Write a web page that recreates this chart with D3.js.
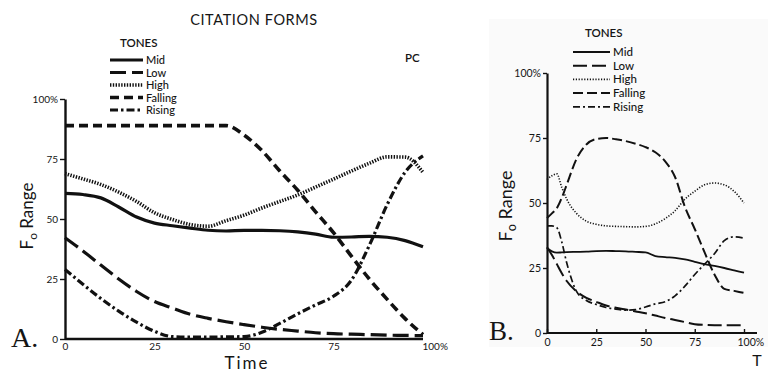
<!DOCTYPE html>
<html>
<head>
<meta charset="utf-8">
<script src="https://cdn.jsdelivr.net/npm/d3@7/dist/d3.min.js"></script>
<style>
  html, body { margin: 0; padding: 0; background: #fff; }
  svg { display: block; }
  text { font-family: Lato, "Open Sans", sans-serif; fill: #151515; }
  .panel-letter { font-family: "Liberation Serif", "DejaVu Serif", serif; }
</style>
</head>
<body>
<svg id="chart" width="768" height="372"></svg>
<script>
// ---- Tone labels (legend order) ----
const tones = ["Mid", "Low", "High", "Falling", "Rising"];

// ---- Axis ticks ----
const yTicks = [0, 25, 50, 75, 100];
const yTickLabels = ["0", "25", "50", "75", "100%"];
const xTicks = [0, 25, 50, 75, 100];
const xTickLabels = ["0", "25", "50", "75", "100%"];

// ---- Panel A: citation forms (percent of time vs percent of F0 range) ----
const timeA = [0, 5, 10, 15, 20, 25, 30, 35, 40, 45, 50, 55, 60, 65, 70, 75, 80, 85, 90, 95, 100];
const aMid     = [60.7, 60.2, 58.8, 55.0, 50.8, 48.3, 47.2, 46.2, 45.3, 45.0, 45.3, 45.3, 45.1, 44.6, 43.7, 42.4, 42.5, 42.8, 42.4, 41.0, 38.4];
const aLow     = [42.2, 36.7, 30.8, 25.0, 19.8, 15.6, 12.9, 10.3, 8.6, 7.2, 6.0, 4.9, 4.0, 3.3, 2.6, 2.2, 2.0, 1.8, 1.6, 1.5, 1.4];
const aHigh    = [68.9, 66.7, 64.4, 61.2, 57.3, 52.6, 49.8, 47.7, 47.0, 49.3, 51.6, 54.6, 57.3, 60.0, 63.3, 66.6, 70.0, 73.2, 75.9, 75.8, 69.4];
const aFalling = [88.9, 88.9, 88.9, 88.9, 88.9, 88.9, 88.9, 88.9, 88.9, 88.9, 85.0, 78.5, 70.0, 62.0, 53.0, 44.3, 34.5, 25.0, 16.5, 8.5, 1.8];
const aRising  = [29.0, 22.8, 16.9, 11.6, 7.0, 3.2, 1.0, 0.8, 0.8, 0.9, 1.0, 2.8, 6.5, 10.5, 14.2, 17.8, 24.5, 39.0, 56.0, 69.5, 76.3];

// ---- Panel B ----
const timeB = [0, 2.5, 5, 7.5, 10, 15, 20, 25, 30, 35, 40, 45, 50, 55, 60, 65, 70, 75, 80, 85, 90, 95, 100];
const bMid     = [32.7, 31.4, 30.9, 31.0, 31.1, 31.2, 31.3, 31.5, 31.6, 31.5, 31.4, 31.2, 31.0, 29.6, 29.2, 28.9, 28.3, 27.4, 26.5, 25.8, 25.0, 24.1, 23.2];
const bLow     = [33.0, 30.0, 26.5, 23.0, 20.0, 16.0, 13.5, 12.0, 10.6, 9.7, 9.0, 8.3, 7.6, 6.7, 5.8, 5.0, 4.2, 3.4, 3.1, 3.0, 3.0, 3.0, 3.0];
const bHigh    = [59.0, 60.5, 61.2, 56.0, 51.5, 46.0, 43.0, 41.8, 41.2, 41.0, 40.9, 40.8, 41.0, 42.0, 44.0, 47.0, 51.5, 54.5, 57.0, 57.7, 57.0, 54.5, 50.0];
const bFalling = [44.2, 46.0, 48.0, 52.0, 57.0, 67.0, 72.5, 74.6, 75.0, 74.5, 73.8, 72.8, 71.5, 69.5, 66.0, 60.0, 48.5, 40.0, 31.0, 22.5, 17.0, 16.2, 15.4];
const bRising  = [41.2, 41.2, 40.5, 35.0, 27.0, 16.0, 12.5, 11.0, 9.8, 9.2, 8.8, 9.0, 10.0, 11.2, 12.0, 14.3, 18.0, 22.5, 26.5, 30.5, 35.5, 37.0, 36.5];

const svg = d3.select("#chart");

// Stroke styles for the two panels (heavy ink for A, fine pen for B)
const stylesA = {
  Mid:     { w: 3.2, dash: null },
  Low:     { w: 3.2, dash: "16,6" },
  High:    { w: 3.6, dash: "1.4,1.4" },
  Falling: { w: 3.6, dash: "9,5" },
  Rising:  { w: 3.2, dash: "8,3,2.5,3" }
};
const stylesB = {
  Mid:     { w: 1.8, dash: null },
  Low:     { w: 2.0, dash: "14,5" },
  High:    { w: 1.6, dash: "1.2,1.6" },
  Falling: { w: 2.0, dash: "10,4" },
  Rising:  { w: 1.7, dash: "7,3,2,3" }
};

function drawPanel(cfg) {
  const x = d3.scaleLinear().domain([0, 100]).range(cfg.xRange);
  const y = d3.scaleLinear().domain([0, 100]).range(cfg.yRange);
  const g = svg.append("g");

  // y axis
  const yAxis = d3.axisLeft(y)
    .tickValues(yTicks)
    .tickFormat((d, i) => yTickLabels[i])
    .tickSizeInner(cfg.yTickSize).tickSizeOuter(0).tickPadding(2);
  const ya = g.append("g").attr("transform", `translate(${cfg.xRange[0]},0)`).call(yAxis);
  ya.select(".domain").attr("stroke", "#111").attr("stroke-width", cfg.axisW);
  ya.selectAll(".tick line").attr("stroke", "#111").attr("stroke-width", 1.4);
  ya.selectAll(".tick text").style("font-family", "Lato, sans-serif")
    .style("font-size", cfg.tickFont + "px").attr("fill", "#151515");

  // x axis
  const xAxis = d3.axisBottom(x)
    .tickValues(xTicks)
    .tickFormat((d, i) => xTickLabels[i])
    .tickSizeInner(cfg.xTickSize).tickSizeOuter(0).tickPadding(cfg.xTickPad);
  const xa = g.append("g").attr("transform", `translate(0,${cfg.yRange[0]})`).call(xAxis);
  xa.select(".domain").attr("stroke", "#111").attr("stroke-width", cfg.axisW)
    .attr("d", `M${cfg.xRange[0]},0H${cfg.xAxisEnd}`);
  xa.selectAll(".tick line").attr("stroke", "#111").attr("stroke-width", 1.4);
  xa.selectAll(".tick text").style("font-family", "Lato, sans-serif")
    .style("font-size", cfg.tickFont + "px").attr("fill", "#151515")
    .attr("text-anchor", (d) => d === 100 ? "start" : "middle")
    .attr("dx", (d) => d === 100 ? cfg.lastDx : 0);

  // tone curves
  const line = d3.line()
    .x((d) => x(d[0]))
    .y((d) => y(d[1]))
    .curve(d3.curveMonotoneX);
  tones.forEach((t, k) => {
    const pts = cfg.time.map((tv, i) => [tv, cfg.series[k][i]]);
    const st = cfg.styles[t];
    g.append("path")
      .datum(pts)
      .attr("d", line)
      .attr("fill", "none")
      .attr("stroke", "#111")
      .attr("stroke-width", st.w)
      .attr("stroke-dasharray", st.dash)
      .attr("stroke-linejoin", "round");
  });

  // legend
  const lg = g.append("g");
  lg.append("text").attr("x", cfg.legend.titleX).attr("y", cfg.legend.titleY)
    .style("font-size", cfg.legend.titleFont + "px").style("font-weight", 600)
    .text("TONES");
  tones.forEach((t, i) => {
    const yy = cfg.legend.y0 + i * cfg.legend.dy;
    const st = cfg.styles[t];
    lg.append("line")
      .attr("x1", cfg.legend.x1).attr("x2", cfg.legend.x2)
      .attr("y1", yy).attr("y2", yy)
      .attr("stroke", "#111").attr("stroke-width", st.w)
      .attr("stroke-dasharray", st.dash);
    lg.append("text").attr("x", cfg.legend.x2 + 3).attr("y", yy + 4)
      .style("font-size", cfg.legend.font + "px").style("font-weight", 500)
      .text(t);
  });

  // y axis title: F (subscript o) Range
  const yt = g.append("text")
    .attr("transform", `translate(${cfg.yTitleX},${cfg.yTitleY}) rotate(-90)`)
    .attr("text-anchor", "middle")
    .style("font-size", cfg.yTitleFont + "px");
  yt.append("tspan").text("F");
  yt.append("tspan").attr("dy", 4).style("font-size", (cfg.yTitleFont * 0.7) + "px").text("o");
  yt.append("tspan").attr("dy", -4).text(" Range");

  // panel letter
  g.append("text").attr("class", "panel-letter")
    .attr("x", cfg.letterX).attr("y", cfg.letterY)
    .style("font-size", cfg.letterFont + "px")
    .text(cfg.letter);

  return g;
}

// light paper tone behind panel B
svg.append("rect").attr("x", 489).attr("y", 19).attr("width", 279).attr("height", 328)
  .attr("fill", "#fafafa");

const gA = drawPanel({
  xRange: [65, 423], yRange: [339, 99], xAxisEnd: 423,
  yTickSize: 5, xTickSize: 0, xTickPad: 4, axisW: 2.4, tickFont: 10, lastDx: -1,
  time: timeA, series: [aMid, aLow, aHigh, aFalling, aRising], styles: stylesA,
  legend: { titleX: 120, titleY: 47, titleFont: 11.5, x1: 110, x2: 143, y0: 60, dy: 12.5, font: 11 },
  yTitleX: 33, yTitleY: 216, yTitleFont: 17,
  letter: "A.", letterX: 11, letterY: 347, letterFont: 28
});

const gB = drawPanel({
  xRange: [547, 744], yRange: [333, 73], xAxisEnd: 757,
  yTickSize: 4, xTickSize: -4, xTickPad: 6, axisW: 2.2, tickFont: 10.5, lastDx: -7,
  time: timeB, series: [bMid, bLow, bHigh, bFalling, bRising], styles: stylesB,
  legend: { titleX: 585, titleY: 37, titleFont: 11.5, x1: 573, x2: 610, y0: 52, dy: 13.7, font: 11.5 },
  yTitleX: 512, yTitleY: 206, yTitleFont: 18,
  letter: "B.", letterX: 489, letterY: 340, letterFont: 27
});

// panel A title, speaker tag and time label
svg.append("text").attr("x", 254).attr("y", 25).attr("text-anchor", "middle")
  .style("font-size", "14.5px").style("letter-spacing", "0.6px").text("CITATION FORMS");
svg.append("text").attr("x", 405).attr("y", 62)
  .style("font-size", "11.5px").style("font-weight", 600).text("PC");
svg.append("text").attr("x", 247).attr("y", 369).attr("text-anchor", "middle")
  .style("font-size", "17px").style("letter-spacing", "2px").text("Time");
// panel B time label at the lower edge
svg.append("text").attr("x", 757).attr("y", 366).attr("text-anchor", "middle")
  .style("font-size", "16px").text("T");
</script>
</body>
</html>
